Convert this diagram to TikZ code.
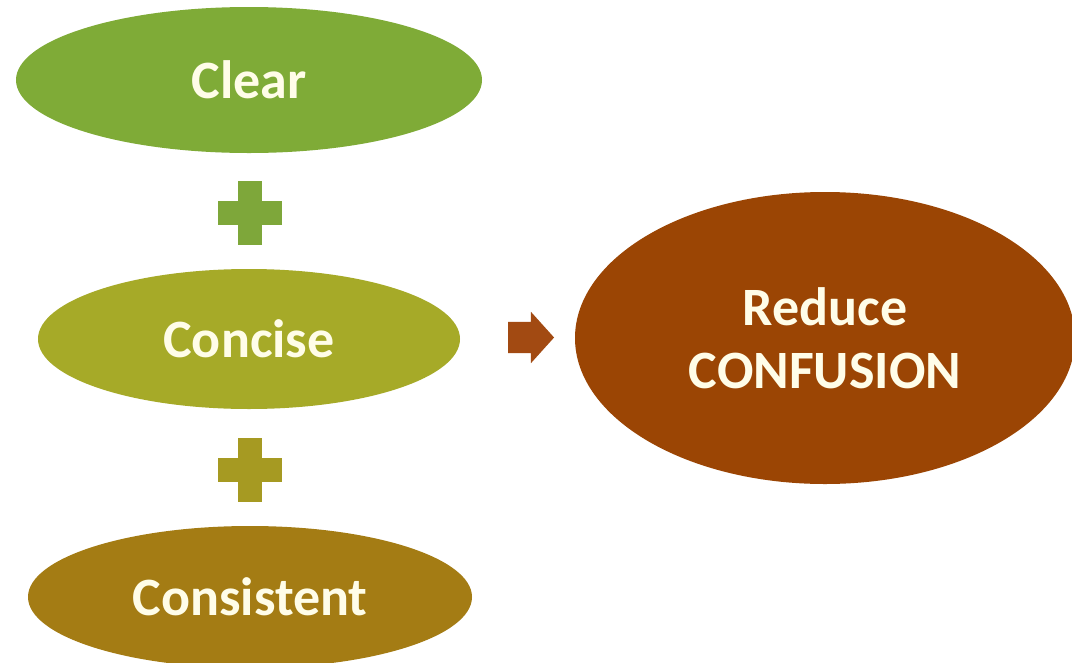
\documentclass[tikz,border=0pt]{standalone}
\usepackage{fontspec}
\setmainfont{Carlito}
\usetikzlibrary{shapes.geometric,shapes.arrows}
\definecolor{clearcol}{HTML}{7FAB37}
\definecolor{concisecol}{HTML}{A6AA28}
\definecolor{consistcol}{HTML}{A47C14}
\definecolor{plusone}{HTML}{7EA73A}
\definecolor{plustwo}{HTML}{A69A22}
\definecolor{reducecol}{HTML}{9B4504}
\definecolor{arrowcol}{HTML}{A24A12}
\definecolor{txtcol}{HTML}{FFFDE8}
\tikzset{
  oval/.style={ellipse, inner sep=0pt, text=txtcol, font=\fontsize{54}{63}\selectfont\bfseries, align=center},
  plusbar/.style={rectangle, inner sep=0pt, draw=none},
}
\begin{document}
\begin{tikzpicture}[x=1pt,y=-1pt]
\useasboundingbox (0,0) rectangle (1072,662);
\clip (0,0) rectangle (1072,662);
\fill[white] (0,0) rectangle (1072,662);
\node[oval, fill=clearcol, minimum width=466pt, minimum height=146pt] (clear) at (249,80) {Clear};
\node[oval, fill=concisecol, minimum width=422pt, minimum height=140pt] (concise) at (249,339) {Concise};
\node[oval, fill=consistcol, minimum width=444pt, minimum height=142pt] (consistent) at (250,597) {Consistent};
\node[plusbar, fill=plusone, minimum width=64pt, minimum height=24pt] (p1h) at (250,213) {};
\node[plusbar, fill=plusone, minimum width=24pt, minimum height=64pt] (p1v) at (p1h.center) {};
\node[plusbar, fill=plustwo, minimum width=64pt, minimum height=24pt] (p2h) at (250,470) {};
\node[plusbar, fill=plustwo, minimum width=24pt, minimum height=64pt] (p2v) at (p2h.center) {};
\node[single arrow, fill=arrowcol, inner xsep=0pt, inner ysep=15.5pt, minimum height=46pt, single arrow head extend=10pt, single arrow tip angle=96] (arr) at (524,337.5) {};
\node[oval, fill=reducecol, minimum width=500pt, minimum height=292pt] (reduce) at (825,338) {Reduce\\CONFUSION};
\end{tikzpicture}
\end{document}
